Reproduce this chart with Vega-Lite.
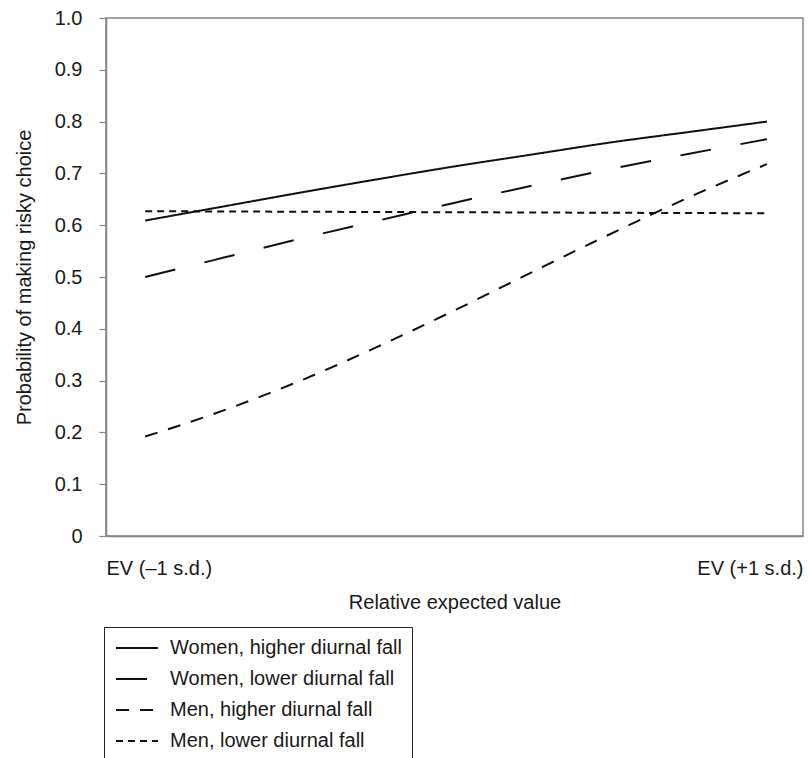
{
  "$schema": "https://vega.github.io/schema/vega-lite/v6.json",
  "width": 697,
  "height": 518,
  "autosize": {"type": "none"},
  "padding": {"left": 106, "top": 18, "right": 6, "bottom": 222},
  "background": "white",
  "config": {
    "view": {"stroke": "#858585", "strokeWidth": 1.5},
    "font": "Liberation Sans",
    "axis": {
      "domainColor": "#858585",
      "domainWidth": 1.5,
      "tickColor": "#858585",
      "tickWidth": 1.2,
      "grid": false,
      "labelFont": "Liberation Sans",
      "labelFontSize": 20,
      "labelColor": "#1a1a1a",
      "titleFont": "Liberation Sans",
      "titleFontSize": 20,
      "titleFontWeight": "normal",
      "titleColor": "#1a1a1a"
    }
  },
  "data": {
    "values": [
      {"x": 0, "p": 0.609, "group": "Women, higher diurnal fall"},
      {"x": 0.125, "p": 0.636, "group": "Women, higher diurnal fall"},
      {"x": 0.25, "p": 0.663, "group": "Women, higher diurnal fall"},
      {"x": 0.375, "p": 0.689, "group": "Women, higher diurnal fall"},
      {"x": 0.5, "p": 0.714, "group": "Women, higher diurnal fall"},
      {"x": 0.625, "p": 0.737, "group": "Women, higher diurnal fall"},
      {"x": 0.75, "p": 0.760, "group": "Women, higher diurnal fall"},
      {"x": 0.875, "p": 0.780, "group": "Women, higher diurnal fall"},
      {"x": 1, "p": 0.800, "group": "Women, higher diurnal fall"},
      {"x": 0, "p": 0.500, "group": "Women, lower diurnal fall"},
      {"x": 0.125, "p": 0.537, "group": "Women, lower diurnal fall"},
      {"x": 0.25, "p": 0.574, "group": "Women, lower diurnal fall"},
      {"x": 0.375, "p": 0.609, "group": "Women, lower diurnal fall"},
      {"x": 0.5, "p": 0.644, "group": "Women, lower diurnal fall"},
      {"x": 0.625, "p": 0.677, "group": "Women, lower diurnal fall"},
      {"x": 0.75, "p": 0.709, "group": "Women, lower diurnal fall"},
      {"x": 0.875, "p": 0.738, "group": "Women, lower diurnal fall"},
      {"x": 1, "p": 0.766, "group": "Women, lower diurnal fall"},
      {"x": 0, "p": 0.192, "group": "Men, higher diurnal fall"},
      {"x": 0.125, "p": 0.242, "group": "Men, higher diurnal fall"},
      {"x": 0.25, "p": 0.300, "group": "Men, higher diurnal fall"},
      {"x": 0.375, "p": 0.366, "group": "Men, higher diurnal fall"},
      {"x": 0.5, "p": 0.437, "group": "Men, higher diurnal fall"},
      {"x": 0.625, "p": 0.511, "group": "Men, higher diurnal fall"},
      {"x": 0.75, "p": 0.584, "group": "Men, higher diurnal fall"},
      {"x": 0.875, "p": 0.654, "group": "Men, higher diurnal fall"},
      {"x": 1, "p": 0.718, "group": "Men, higher diurnal fall"},
      {"x": 0, "p": 0.627, "group": "Men, lower diurnal fall"},
      {"x": 0.5, "p": 0.625, "group": "Men, lower diurnal fall"},
      {"x": 1, "p": 0.623, "group": "Men, lower diurnal fall"}
    ]
  },
  "mark": {"type": "line", "color": "#111111", "strokeWidth": 2, "interpolate": "monotone"},
  "encoding": {
    "x": {
      "field": "x",
      "type": "quantitative",
      "scale": {"domain": [-0.063, 1.058], "nice": false, "zero": false},
      "axis": {
        "title": "Relative expected value",
        "values": [-0.063, 1.058],
        "labelExpr": "datum.value < 0.5 ? 'EV (–1 s.d.)' : 'EV (+1 s.d.)'",
        "labelFlush": true,
        "ticks": false,
        "labelPadding": 22,
        "titlePadding": 14
      }
    },
    "y": {
      "field": "p",
      "type": "quantitative",
      "scale": {"domain": [0, 1], "nice": false},
      "axis": {
        "title": "Probability of making risky choice",
        "values": [0, 0.1, 0.2, 0.3, 0.4, 0.5, 0.6, 0.7, 0.8, 0.9, 1.0],
        "labelExpr": "datum.value == 0 ? '0' : format(datum.value, '.1f')",
        "tickSize": 7,
        "labelPadding": 17,
        "titlePadding": 20
      }
    },
    "strokeDash": {
      "field": "group",
      "type": "nominal",
      "scale": {
        "domain": ["Women, higher diurnal fall", "Women, lower diurnal fall", "Men, higher diurnal fall", "Men, lower diurnal fall"],
        "range": [[1, 0], [31, 30], [13, 11], [7, 5]]
      },
      "legend": {
        "title": null,
        "orient": "none",
        "legendX": -2,
        "legendY": 609,
        "direction": "vertical",
        "strokeColor": "#222222",
        "fillColor": "white",
        "padding": 10,
        "rowPadding": 10,
        "symbolType": "M-0.9,0H3.3",
        "symbolSize": 400,
        "symbolStrokeWidth": 2,
        "symbolStrokeColor": "#111111",
        "labelOffset": 34,
        "labelFont": "Liberation Sans",
        "labelFontSize": 20,
        "labelColor": "#1a1a1a",
        "labelLimit": 400
      }
    }
  }
}
